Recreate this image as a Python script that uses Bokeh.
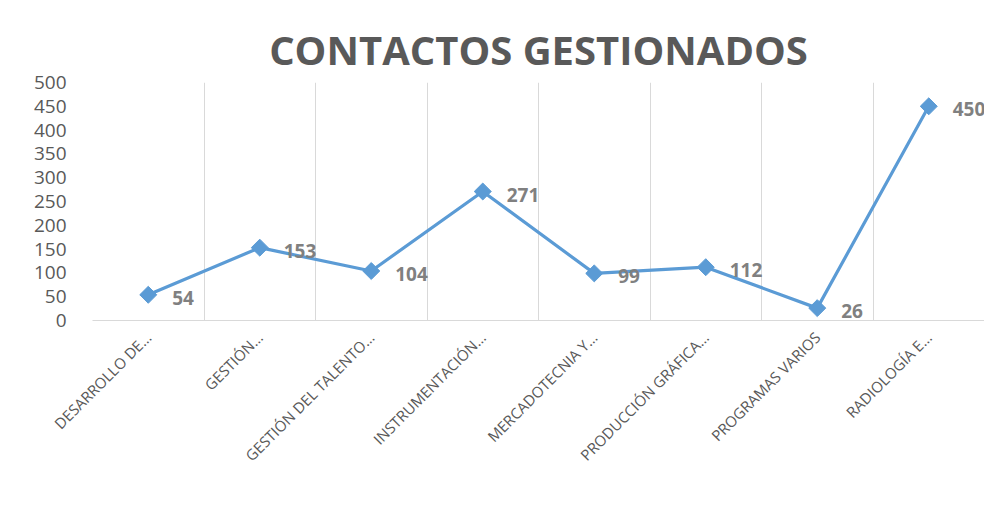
import numpy as np
from bokeh.plotting import figure
from bokeh.models import FixedTicker, ColumnDataSource, Range1d
from bokeh.core.properties import value
from bokeh.embed import file_html
from bokeh.resources import INLINE

title_text = "CONTACTOS GESTIONADOS"
categories = ["DESARROLLO DE…", "GESTIÓN…", "GESTIÓN DEL TALENTO…", "INSTRUMENTACIÓN…",
              "MERCADOTECNIA Y…", "PRODUCCIÓN GRÁFICA…", "PROGRAMAS VARIOS", "RADIOLOGÍA E…"]
values = [54, 153, 104, 271, 99, 112, 26, 450]
y_ticks = [0, 50, 100, 150, 200, 250, 300, 350, 400, 450, 500]

n = len(categories)
xs = np.arange(n) + 0.5
src = ColumnDataSource(dict(x=xs, y=values, lbl=[str(v) for v in values]))

p = figure(width=984, height=524, output_backend="svg", toolbar_location=None,
           x_range=Range1d(0, n), y_range=Range1d(0, 500),
           min_border_left=92, min_border_right=0, min_border_top=82, min_border_bottom=204)
p.outline_line_color = None
p.title.text = title_text
p.title.text_font = "Open Sans"
p.title.text_font_size = "40px"
p.title.text_font_style = "bold"
p.title.text_color = "#595959"
p.title.align = "center"
p.title.standoff = 12

p.line("x", "y", source=src, line_color="#5B9BD5", line_width=3.2)
p.scatter("x", "y", source=src, marker="square", angle=np.pi / 4, size=12,
          fill_color="#5B9BD5", line_color="#5B9BD5")
p.text("x", "y", text="lbl", source=src, x_offset=24, y_offset=3,
       text_font=value("Open Sans"), text_font_style="bold", text_font_size="19px",
       text_color="#808080", text_baseline="middle", text_align="left")

# x axis
p.xaxis.ticker = FixedTicker(ticks=list(xs))
p.xaxis.major_label_overrides = {float(x): c for x, c in zip(xs, categories)}
p.xaxis.major_label_orientation = np.pi / 4
p.xaxis.major_label_text_font = "Open Sans"
p.xaxis.major_label_text_font_size = "15px"
p.xaxis.major_label_text_color = "#595959"
p.xaxis.axis_line_color = "#D9D9D9"
p.xaxis.major_tick_line_color = None
p.xaxis.minor_tick_line_color = None
p.xaxis.major_label_standoff = 8

p.xgrid.ticker = FixedTicker(ticks=list(range(n + 1)))
p.xgrid.grid_line_color = "#D9D9D9"
p.ygrid.grid_line_color = None

# y axis
p.yaxis.ticker = FixedTicker(ticks=y_ticks)
p.yaxis.axis_line_color = None
p.yaxis.major_tick_line_color = None
p.yaxis.minor_tick_line_color = None
p.yaxis.major_label_text_font = "Open Sans"
p.yaxis.major_label_text_font_size = "19px"
p.yaxis.major_label_text_color = "#595959"
p.yaxis.major_label_standoff = 20

open("out.html", "w").write(file_html(p, INLINE))
